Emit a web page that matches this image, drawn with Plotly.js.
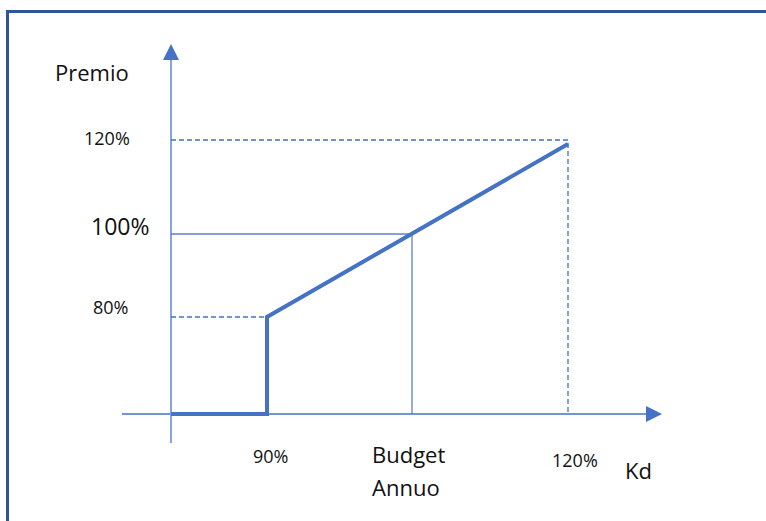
<!DOCTYPE html>
<html>
<head>
<meta charset="utf-8">
<script src="https://cdn.plot.ly/plotly-3.0.1.min.js"></script>
<style>html,body{margin:0;padding:0;background:#fff;}#chart{width:766px;height:521px;}</style>
</head>
<body>
<div id="chart"></div>
<script>
// Schematic positions (origin at the axes crossing)
var kdPos = [0, 96, 241, 397];          // origin, 90%, Budget Annuo, 120%
var kdLabels = ["90%", "Budget", "Annuo", "120%"];
var premioPos = [0, 97, 180, 274];      // origin, 80%, 100%, 120%
var premioLabels = ["80%", "100%", "120%"];
var premioLineEnd = 270;                // where the payout line stops at Kd 120%
var axisX = [-49, 491];                 // horizontal axis extent (tip at the end)
var axisY = [-29, 370];                 // vertical axis extent (tip at the end)

var blue = "#4472C4";
var traces = [];

// axes
traces.push({x: [axisX[0], axisX[1] - 8], y: [0, 0], mode: "lines", line: {color: blue, width: 1.6}});
traces.push({x: [0, 0], y: [axisY[0], axisY[1] - 8], mode: "lines", line: {color: "#85A3DD", width: 2}});
traces.push({x: [axisX[1]], y: [0], mode: "markers", marker: {symbol: "arrow-right", size: 16, color: blue}});
traces.push({x: [0], y: [axisY[1]], mode: "markers", marker: {symbol: "arrow-up", size: 16, color: blue}});

// guide lines
traces.push({x: [0, kdPos[1]], y: [premioPos[1], premioPos[1]], mode: "lines", line: {color: blue, width: 1.3, dash: "5px,3px"}});
traces.push({x: [0, kdPos[2], kdPos[2]], y: [premioPos[2], premioPos[2], 0], mode: "lines", line: {color: "#5B82CC", width: 1.3}});
traces.push({x: [0, kdPos[3], kdPos[3]], y: [premioPos[3], premioPos[3], 0], mode: "lines", line: {color: blue, width: 1.3, dash: "5px,3px"}});

// payout curve
traces.push({x: [kdPos[0], kdPos[1], kdPos[1], kdPos[3]], y: [0, 0, premioPos[1], premioLineEnd],
  mode: "lines", line: {color: blue, width: 4}});

var F = "Open Sans, Lato, sans-serif";
function ann(text, x, y, size, opts) {
  var a = {text: text, x: x, y: y, xref: "x", yref: "y", showarrow: false,
    font: {family: F, size: size, color: "#111111"}, xanchor: "center", yanchor: "middle"};
  for (var k in opts) a[k] = opts[k];
  return a;
}
var annotations = [
  ann("Premio", -79, 342, 22),
  ann(premioLabels[2], -64, premioPos[3], 18, {yshift: 2}),
  ann(premioLabels[1], -51, premioPos[2], 23, {yshift: 8}),
  ann(premioLabels[0], -61, premioPos[1], 18, {yshift: 10}),
  ann(kdLabels[0], kdPos[1], -42, 18, {xshift: 3}),
  ann(kdLabels[1], kdPos[2] - 42, -40, 22, {xanchor: "left"}),
  ann(kdLabels[2], kdPos[2] - 42, -73, 22, {xanchor: "left"}),
  ann(kdLabels[3], kdPos[3], -46, 18, {xshift: 7}),
  ann("Kd", 467, -56, 22)
];

var layout = {
  width: 766, height: 521,
  margin: {l: 0, r: 0, t: 0, b: 0},
  paper_bgcolor: "#fff", plot_bgcolor: "#fff",
  showlegend: false,
  xaxis: {visible: false, range: [-171, 595], fixedrange: true},
  yaxis: {visible: false, range: [-107, 414], fixedrange: true},
  annotations: annotations,
  shapes: [{type: "rect", xref: "paper", yref: "paper",
    x0: 7.5 / 766, x1: 1.2, y0: -0.2, y1: 1 - 11.5 / 521,
    line: {color: "#2F5597", width: 3}, layer: "above"}]
};
Plotly.newPlot("chart", traces, layout, {staticPlot: true});
</script>
</body>
</html>
